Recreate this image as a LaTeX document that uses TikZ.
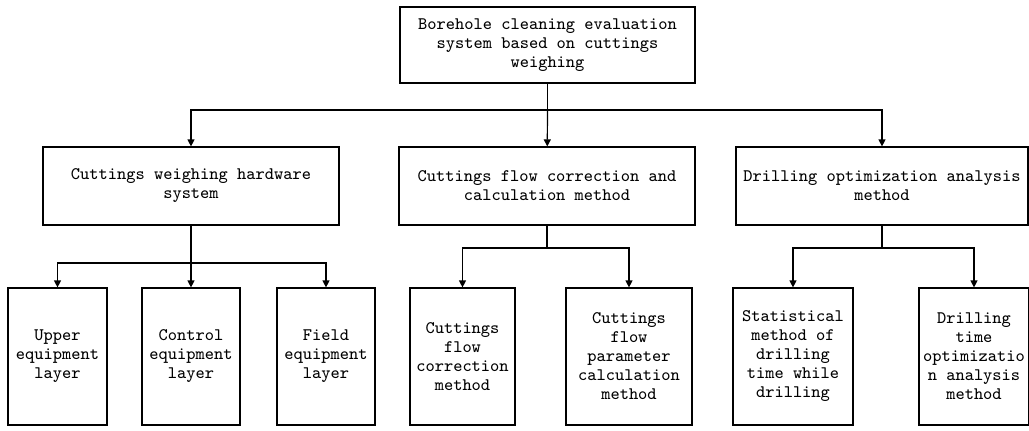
\documentclass[tikz,border=0pt]{standalone}
\usetikzlibrary{arrows.meta}

\begin{document}
\begin{tikzpicture}[
    x=0.5pt, y=-0.5pt,
    >={Triangle[length=3.5pt,width=3.5pt]},
    font=\fontsize{8.8pt}{9.5pt}\selectfont\ttfamily,
    box/.style={
      draw,
      line width=0.6pt,
      align=center,
      minimum width=148pt,
      minimum height=39pt,
      inner sep=0pt
    },
    leaf/.style={
      draw,
      line width=0.6pt,
      align=center,
      minimum height=68.5pt,
      inner sep=0pt
    },
    link/.style={line width=0.6pt}
  ]
    \useasboundingbox (0,0) rectangle (1029,430);

    % root
    \node[box, minimum width=147.5pt, minimum height=38pt] (root) at (547.5,45)
      {Borehole cleaning evaluation\\system based on cuttings\\weighing};

    % second level
    \node[box] (hardware) at (191,186) {Cuttings weighing hardware\\system};
    \node[box] (flow) at (547,186) {Cuttings flow correction and\\calculation method};
    \node[box, minimum width=146pt] (drilling) at (882,186) {Drilling optimization analysis\\method};

    % third level
    \node[leaf, minimum width=49.5pt] (upper) at (57.5,356.5) {Upper\\equipment\\layer};
    \node[leaf, minimum width=49pt] (control) at (191,356.5) {Control\\equipment\\layer};
    \node[leaf, minimum width=49pt] (field) at (326,356.5) {Field\\equipment\\layer};
    \node[leaf, minimum width=52.5pt] (correct) at (462.5,356.5) {Cuttings\\flow\\correction\\method};
    \node[leaf, minimum width=63pt] (param) at (629,356.5) {Cuttings\\flow\\parameter\\calculation\\method};
    \node[leaf, minimum width=60pt] (stat) at (793,356.5) {Statistical\\method of\\drilling\\time while\\drilling};
    \node[leaf, minimum width=55pt] (opt) at (974,356.5) {Drilling\\time\\optimizatio\\n analysis\\method};

    % branch points
    \coordinate (rootbus) at (547.5,110);
    \coordinate (hwbus) at (191,263);
    \coordinate (flowbus) at (547,248);
    \coordinate (drbus) at (882,248);

    \draw[link] (root) -- (rootbus);
    \draw[link, ->] (rootbus) -| (hardware);
    \draw[link, ->] (rootbus) -- (flow);
    \draw[link, ->] (rootbus) -| (drilling);

    \draw[link] (hardware) -- (hwbus);
    \draw[link, ->] (hwbus) -| (upper);
    \draw[link, ->] (hwbus) -- (control);
    \draw[link, ->] (hwbus) -| (field);

    \draw[link] (flow) -- (flowbus);
    \draw[link, ->] (flowbus) -| (correct);
    \draw[link, ->] (flowbus) -| (param);

    \draw[link] (drilling) -- (drbus);
    \draw[link, ->] (drbus) -| (stat);
    \draw[link, ->] (drbus) -| (opt);
\end{tikzpicture}
\end{document}
